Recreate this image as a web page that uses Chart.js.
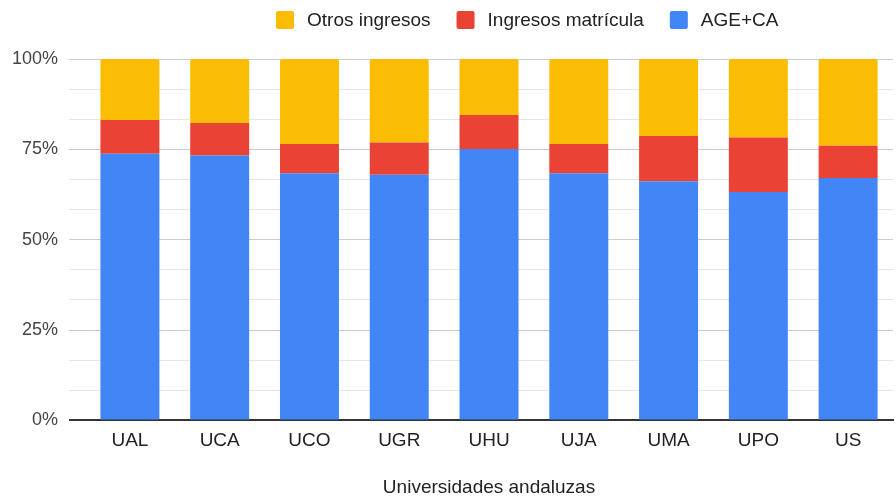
<!DOCTYPE html>
<html>
<head>
<meta charset="utf-8">
<script src="https://cdn.jsdelivr.net/npm/chart.js@4"></script>
<style>
  html, body { margin: 0; padding: 0; background: #fff; }
  #wrap { width: 896px; height: 499px; }
</style>
</head>
<body>
<div id="wrap"><canvas id="uniChart"></canvas></div>
<script>
// Universities and their income shares (% of total)
const universities = ['UAL', 'UCA', 'UCO', 'UGR', 'UHU', 'UJA', 'UMA', 'UPO', 'US'];
const ageCa      = [73.8, 73.3, 68.4, 68.0, 75.1, 68.4, 66.2, 63.2, 67.1];
const matricula  = [9.3, 9.0, 8.1, 8.9, 9.4, 8.1, 12.5, 15.1, 8.9];
const otros      = [16.9, 17.7, 23.5, 23.1, 15.5, 23.5, 21.3, 21.7, 24.0];

// y gridlines every 1/12, labels only on quarters
const yTicks = [0, 8.333, 16.667, 25, 33.333, 41.667, 50, 58.333, 66.667, 75, 83.333, 91.667, 100];
const yTickLabels = ['0%', '', '', '25%', '', '', '50%', '', '', '75%', '', '', '100%'];

const FONT = 'Liberation Sans, Arial, sans-serif';

// Legend drawn like the Google one: sits a bit right of centre, top item = top of stack
const topLegend = {
    id: 'topLegend',
    afterDraw(chart) {
        const c = chart.ctx;
        const items = chart.data.datasets.slice().reverse();
        c.save();
        c.font = '19px ' + FONT;
        c.textBaseline = 'middle';
        let x = 276;
        const y = 20;
        items.forEach(ds => {
            c.fillStyle = ds.backgroundColor;
            c.beginPath();
            c.roundRect(x, y - 9, 18, 18, 2);
            c.fill();
            x += 18 + 13;
            c.fillStyle = '#222';
            c.fillText(ds.label, x, y + 1);
            x += c.measureText(ds.label).width + 26;
        });
        c.restore();
    }
};

const ctx = document.getElementById('uniChart').getContext('2d');
const uniChart = new Chart(ctx, {
    type: 'bar',
    data: {
        labels: universities,
        datasets: [{
            label: 'AGE+CA',
            data: ageCa,
            backgroundColor: '#4285f4'
        }, {
            label: 'Ingresos matrícula',
            data: matricula,
            backgroundColor: '#ea4335'
        }, {
            label: 'Otros ingresos',
            data: otros,
            backgroundColor: '#fbbc04',
            borderRadius: { topLeft: 2, topRight: 2 },
            borderSkipped: 'bottom'
        }]
    },
    plugins: [topLegend],
    options: {
        responsive: true,
        maintainAspectRatio: false,
        animation: false,
        datasets: {
            bar: { categoryPercentage: 1, barPercentage: 0.657 }
        },
        layout: { padding: { left: 1, right: 3, top: 59, bottom: 0 } },
        plugins: {
            tooltip: { enabled: false },
            legend: { display: false }
        },
        scales: {
            x: {
                stacked: true,
                grid: { display: false },
                border: { color: '#333', width: 2 },
                ticks: {
                    color: '#222',
                    font: { family: FONT, size: 19 },
                    padding: 1
                },
                title: {
                    display: true,
                    text: 'Universidades andaluzas',
                    color: '#222',
                    font: { family: FONT, size: 19 },
                    padding: { top: 23, bottom: 0 }
                }
            },
            y: {
                stacked: true,
                min: 0,
                max: 100,
                afterBuildTicks: scale => {
                    scale.ticks = yTicks.map(v => ({ value: v }));
                },
                border: { display: false },
                grid: {
                    tickLength: 16,
                    color: c => {
                        const i = c.index;
                        if (i === 0) return '#333';
                        return yTickLabels[i] ? '#cccccc' : '#e6e6e6';
                    },
                    lineWidth: c => (c.index === 0 ? 2 : 1)
                },
                ticks: {
                    color: '#444',
                    font: { family: FONT, size: 18 },
                    padding: 11,
                    callback: (v, i) => yTickLabels[i]
                }
            }
        }
    }
});
</script>
</body>
</html>
